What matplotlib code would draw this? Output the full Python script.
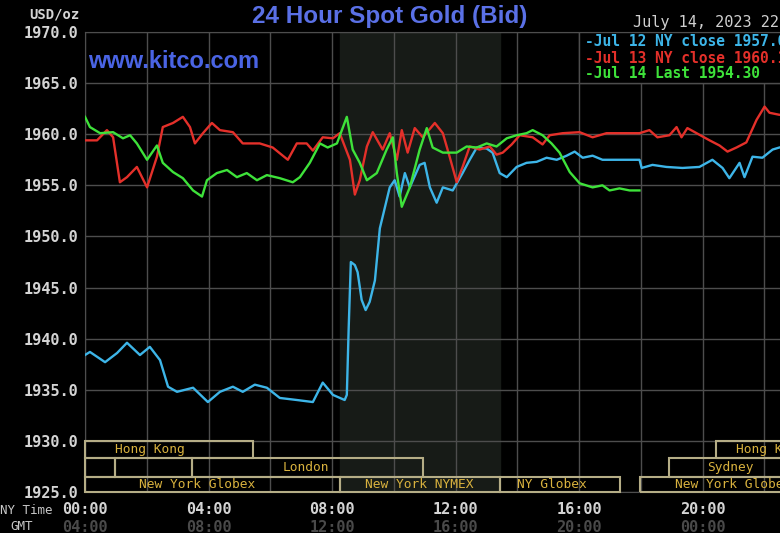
import matplotlib
matplotlib.use("Agg")
import matplotlib.pyplot as plt
import matplotlib.transforms as mtransforms
from matplotlib.patches import Rectangle

# hours since 00:00 NY time, price in USD/oz
JUL12_HOURS = [0.00, 0.16, 0.65, 1.04, 1.36, 1.78, 2.10, 2.43, 2.69, 2.98, 3.50, 3.98,
               4.37, 4.79, 5.11, 5.50, 5.89, 6.31, 6.86, 7.38, 7.70, 8.03, 8.41, 8.48,
               8.54, 8.61, 8.74, 8.83, 8.96, 9.09, 9.22, 9.39, 9.55, 9.87, 10.03, 10.19,
               10.36, 10.52, 10.84, 11.00, 11.17, 11.39, 11.59, 11.91, 12.23, 12.46, 12.69,
               13.01, 13.20, 13.43, 13.66, 13.98, 14.30, 14.63, 14.95, 15.28, 15.60, 15.86,
               16.12, 16.44, 16.76, 17.96, 18.03, 18.38, 18.83, 19.35, 19.90, 20.32, 20.65,
               20.87, 21.20, 21.36, 21.62, 21.94, 22.27, 22.49, 22.80]
JUL12_PRICE = [1938.4, 1938.7, 1937.7, 1938.6, 1939.6, 1938.4, 1939.2, 1937.9, 1935.3, 1934.8,
               1935.2, 1933.8, 1934.8, 1935.3, 1934.8, 1935.5, 1935.2, 1934.2, 1934.0, 1933.8,
               1935.7, 1934.5, 1934.0, 1934.5, 1941.0, 1947.5, 1947.2, 1946.5, 1943.8, 1942.8,
               1943.6, 1945.7, 1950.8, 1954.8, 1955.5, 1953.9, 1956.2, 1954.8, 1957.0, 1957.2,
               1954.8, 1953.3, 1954.8, 1954.5, 1956.2, 1957.5, 1958.7, 1958.6, 1958.2, 1956.2,
               1955.8, 1956.8, 1957.2, 1957.3, 1957.7, 1957.5, 1957.9, 1958.3, 1957.7, 1957.9,
               1957.5, 1957.5, 1956.7, 1957.0, 1956.8, 1956.7, 1956.8, 1957.5, 1956.7, 1955.7,
               1957.2, 1955.8, 1957.8, 1957.7, 1958.5, 1958.7, 1958.9]

JUL13_HOURS = [0.00, 0.39, 0.71, 0.91, 1.13, 1.36, 1.68, 2.01, 2.33, 2.52, 2.85, 3.17, 3.40,
               3.56, 3.82, 4.11, 4.37, 4.79, 5.11, 5.66, 6.08, 6.57, 6.86, 7.18, 7.38, 7.70,
               8.03, 8.25, 8.58, 8.74, 8.90, 9.13, 9.32, 9.64, 9.87, 10.10, 10.26, 10.45,
               10.68, 10.94, 11.33, 11.59, 11.81, 12.04, 12.23, 12.46, 12.78, 13.11, 13.33,
               13.53, 13.82, 14.08, 14.50, 14.82, 15.05, 15.47, 16.02, 16.44, 16.89, 17.96,
               18.28, 18.54, 18.93, 19.16, 19.32, 19.51, 19.81, 20.23, 20.55, 20.81, 21.10,
               21.42, 21.75, 22.01, 22.17, 22.49, 22.80]
JUL13_PRICE = [1959.4, 1959.4, 1960.4, 1959.7, 1955.3, 1955.8, 1956.8, 1954.8, 1957.8, 1960.7,
               1961.1, 1961.7, 1960.7, 1959.1, 1960.1, 1961.1, 1960.4, 1960.2, 1959.1, 1959.1,
               1958.7, 1957.5, 1959.1, 1959.1, 1958.4, 1959.7, 1959.6, 1960.1, 1957.5, 1954.1,
               1955.5, 1958.8, 1960.2, 1958.5, 1960.1, 1957.5, 1960.4, 1958.2, 1960.6, 1959.7,
               1961.1, 1960.1, 1957.8, 1955.3, 1956.8, 1958.8, 1958.5, 1958.8, 1958.0, 1958.2,
               1959.0, 1959.9, 1959.7, 1959.0, 1959.9, 1960.1, 1960.2, 1959.7, 1960.1, 1960.1,
               1960.4, 1959.7, 1959.9, 1960.7, 1959.7, 1960.6, 1960.1, 1959.4, 1958.9, 1958.3,
               1958.7, 1959.2, 1961.4, 1962.7, 1962.1, 1961.9, 1962.0]

JUL14_HOURS = [0.00, 0.16, 0.49, 0.91, 1.23, 1.46, 1.68, 2.01, 2.33, 2.52, 2.85, 3.17, 3.50,
               3.79, 3.95, 4.27, 4.60, 4.92, 5.24, 5.57, 5.89, 6.31, 6.73, 6.96, 7.28, 7.61,
               7.86, 8.16, 8.48, 8.67, 8.90, 9.13, 9.45, 9.77, 9.97, 10.10, 10.26, 10.52,
               10.84, 11.07, 11.26, 11.59, 12.04, 12.36, 12.69, 13.01, 13.33, 13.66, 13.98,
               14.30, 14.50, 14.82, 15.11, 15.37, 15.70, 16.02, 16.44, 16.76, 16.99, 17.31,
               17.64, 17.96]
JUL14_PRICE = [1961.7, 1960.7, 1960.1, 1960.2, 1959.6, 1959.9, 1959.1, 1957.5, 1958.9, 1957.2,
               1956.3, 1955.7, 1954.5, 1953.9, 1955.5, 1956.2, 1956.5, 1955.8, 1956.2, 1955.5,
               1956.0, 1955.7, 1955.3, 1955.8, 1957.2, 1959.1, 1958.7, 1959.1, 1961.7, 1958.5,
               1957.2, 1955.5, 1956.2, 1958.5, 1959.7, 1956.2, 1952.9, 1954.8, 1958.5, 1960.6,
               1958.7, 1958.2, 1958.2, 1958.8, 1958.7, 1959.1, 1958.8, 1959.6, 1959.9, 1960.1,
               1960.4, 1959.9, 1959.1, 1958.2, 1956.3, 1955.2, 1954.8, 1955.0, 1954.5, 1954.7,
               1954.5, 1954.5]

LEGEND_LABELS = ["-Jul 12 NY close 1957.60",
                 "-Jul 13 NY close 1960.10",
                 "-Jul 14 Last 1954.30"]

# trading sessions: name, row (0 = top), start hour, end hour, label hour
SESSION_NAMES = ["Hong Kong", "", "", "London", "New York Globex", "New York NYMEX",
                 "NY Globex", "New York Globex", "Sydney", "Hong Kong"]
SESSION_ROWS = [0, 1, 1, 1, 2, 2, 2, 2, 1, 0]
SESSION_START = [0.0, 0.0, 0.97, 3.46, 0.0, 8.25, 13.43, 17.96, 18.93, 20.45]
SESSION_END = [5.44, 0.97, 3.46, 10.94, 8.25, 13.43, 17.32, 24.0, 24.0, 24.0]
SESSION_LABEL_AT = [2.1, 0, 0, 7.15, 3.63, 10.84, 15.11, 21.0, 20.9, 22.2]

NYMEX_OPEN = 8.25
NYMEX_CLOSE = 13.43

NY_TICKS = [0, 4, 8, 12, 16, 20]
NY_LABELS = ["00:00", "04:00", "08:00", "12:00", "16:00", "20:00"]
GMT_LABELS = ["04:00", "08:00", "12:00", "16:00", "20:00", "00:00"]

MONO = "DejaVu Sans Mono"
GRID = "#4d4d4d"
BOX = "#b5ad86"
GOLD = "#d9b23e"

fig = plt.figure(figsize=(7.8, 5.33), dpi=100, facecolor="black")
ax = fig.add_axes([85 / 780, 41 / 533, 741 / 780, 460 / 533])
ax.set_facecolor("black")
ax.set_xlim(0, 24)
ax.set_ylim(1925, 1970)
ax.set_xticks(range(0, 25, 2))
yticks = list(range(1925, 1971, 5))
ax.set_yticks(yticks)
ax.set_yticklabels(["%.1f" % v for v in yticks], fontfamily=MONO, fontweight="bold",
                   fontsize=11, color="#d4d4d4")
ax.tick_params(length=0, labelbottom=False, pad=4.5)
ax.grid(color=GRID, linewidth=1)
for sp in ax.spines.values():
    sp.set_color(GRID)

ax.axvspan(NYMEX_OPEN, NYMEX_CLOSE, color="#171b17", zorder=0.5)

ax.plot(JUL12_HOURS, JUL12_PRICE, color="#3db5e8", lw=1.7, zorder=3)
ax.plot(JUL13_HOURS, JUL13_PRICE, color="#e4302a", lw=1.7, zorder=3)
ax.plot(JUL14_HOURS, JUL14_PRICE, color="#3ee23a", lw=1.7, zorder=4)

# session boxes along the bottom
row_top = [1930.0, 1928.3, 1926.5]
row_bot = [1928.3, 1926.5, 1925.0]
for name, row, x0, x1, xl in zip(SESSION_NAMES, SESSION_ROWS, SESSION_START,
                                  SESSION_END, SESSION_LABEL_AT):
    ax.add_patch(Rectangle((x0, row_bot[row]), x1 - x0, row_top[row] - row_bot[row],
                           fill=False, edgecolor=BOX, lw=1.5, zorder=5, clip_on=False))
    if name:
        ax.text(xl, (row_top[row] + row_bot[row]) / 2, name, ha="center", va="center",
                fontfamily=MONO, fontsize=9.3, color=GOLD, zorder=6)

# legend box in the top right corner
ax.add_patch(Rectangle((16, 1965), 8, 5, facecolor="black", edgecolor=GRID, lw=1, zorder=6))
for lab, col, yy in zip(LEGEND_LABELS, ["#3db5e8", "#e4302a", "#3ee23a"],
                        [1969.1, 1967.45, 1965.9]):
    ax.text(16.18, yy, lab, ha="left", va="center", fontfamily=MONO, fontweight="bold",
            fontsize=10.5, color=col, zorder=7, clip_on=False)

# time axis labels
tr = mtransforms.blended_transform_factory(ax.transData, fig.transFigure)
for t, ny, gmt in zip(NY_TICKS, NY_LABELS, GMT_LABELS):
    ax.text(t, 1 - 509 / 533, ny, transform=tr, ha="center", va="center",
            fontfamily=MONO, fontweight="bold", fontsize=11, color="#d4d4d4")
    ax.text(t, 1 - 527 / 533, gmt, transform=tr, ha="center", va="center",
            fontfamily=MONO, fontweight="bold", fontsize=11, color="#4a4a4a")
fig.text(0.0, 1 - 510 / 533, "NY Time", ha="left", va="center", fontfamily=MONO,
         fontsize=9, color="#c8c8c8")
fig.text(10 / 780, 1 - 526 / 533, "GMT", ha="left", va="center", fontfamily=MONO,
         fontsize=9, color="#c8c8c8")

fig.text(79 / 780, 1 - 14 / 533, "USD/oz", ha="right", va="center", fontfamily=MONO,
         fontweight="bold", fontsize=10, color="#d4d4d4")
fig.text(390 / 780, 1 - 16 / 533, "24 Hour Spot Gold (Bid)", ha="center", va="center",
         fontfamily="Liberation Sans", fontweight="bold", fontsize=17.5, color="#5a70e6")
fig.text(88 / 780, 1 - 61 / 533, "www.kitco.com", ha="left", va="center",
         fontfamily="Liberation Sans", fontweight="bold", fontsize=17, color="#4a64e4")
fig.text(633 / 780, 1 - 22 / 533, "July 14, 2023 22:00", ha="left", va="center",
         fontfamily=MONO, fontsize=11, color="#d0d0d0")

fig.savefig("out.png", dpi=100, facecolor="black")
